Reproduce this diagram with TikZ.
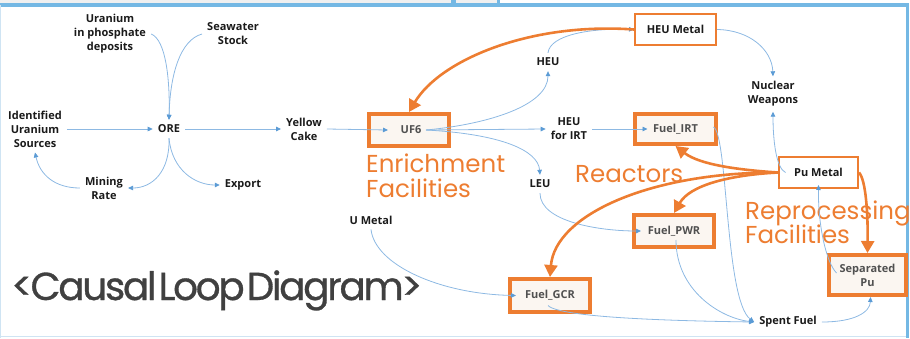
\documentclass[tikz,border=0pt]{standalone}
\usepackage{fontspec}
\usetikzlibrary{arrows.meta}
\newfontfamily\lblfont{Open Sans}
\newfontfamily\bigfont{Poppins}
\newfontfamily\titlefont[LetterSpace=-6,WordSpace=0.25,FakeBold=0.8]{Poppins}
\definecolor{org}{HTML}{ED7D31}
\definecolor{cbl}{HTML}{8DB9E3}
\definecolor{cbt}{HTML}{5B9BD5}
\definecolor{frm}{HTML}{74B8E4}
\definecolor{frmlight}{HTML}{CFE4F3}
\definecolor{boxfill}{HTML}{FBF6F1}
\definecolor{txt}{HTML}{1A1A1A}
\definecolor{boxtxt}{HTML}{505050}
\definecolor{ttl}{HTML}{404040}
\definecolor{tabgray}{HTML}{F0F0F0}
\begin{document}
\begin{tikzpicture}[x=1pt,y=-1pt,
  lbl/.style={font=\lblfont\bfseries\fontsize{11}{14}\selectfont, text=txt, align=center, inner sep=5pt},
  obox/.style={draw=org, line width=4pt, fill=boxfill, inner sep=0pt,
     font=\lblfont\bfseries\fontsize{11}{14}\selectfont, text=boxtxt, align=center},
  tbox/.style={draw=org, line width=2pt, fill=white, inner sep=0pt,
     font=\lblfont\bfseries\fontsize{11}{14}\selectfont, text=txt, align=center},
  bl/.style={draw=cbl, line width=0.8pt, -{Triangle[length=5pt,width=4.5pt,color=cbt]}},
  orr/.style={draw=org, line width=2.6pt, -{Triangle[length=12pt,width=13pt]}},
  big/.style={font=\bigfont\fontsize{24.5}{25}\selectfont, text=org, anchor=base west, inner sep=0pt}
]
\useasboundingbox (0,0) rectangle (910,338);
% frame
\fill[tabgray] (0,0) rectangle (451,3.3);
\fill[tabgray] (456,0) rectangle (497,3.3);
\fill[frm] (451,0) rectangle (456,5);
\fill[frm] (497,0) rectangle (500,5);
\draw[frm, line width=4pt] (0,5.3) -- (909,5.3);
\draw[frm, line width=3.5pt] (907.3,5) -- (907.3,338);
\draw[frmlight, line width=1pt] (0.5,5) -- (0.5,338);
\draw[frmlight, line width=1pt] (0,336.8) -- (906,336.8);

% labels
\node[lbl] (upd) at (110,34) {Uranium\\in phosphate\\deposits};
\node[lbl] (sea) at (233,34) {Seawater\\Stock};
\node[lbl] (ids) at (35,129) {Identified\\Uranium\\Sources};
\node[lbl] (ore) at (169,129) {ORE};
\node[lbl] (mine) at (104,188) {Mining\\Rate};
\node[lbl] (exp) at (243,185) {Export};
\node[lbl] (yc) at (304,129) {Yellow\\Cake};
\node[lbl] (heu) at (548,62) {HEU};
\node[lbl] (heuirt) at (569,129) {HEU\\for IRT};
\node[lbl] (leu) at (540,184) {LEU};
\node[lbl] (nw) at (773,94) {Nuclear\\Weapons};
\node[lbl] (sf) at (788,322) {Spent Fuel};
\node[lbl] (um) at (371,220) {U Metal};

% boxes
\node[obox, minimum width=80pt, minimum height=32pt] (uf6) at (409,130) {\hspace*{4pt}UF6};
\node[tbox, minimum width=81pt, minimum height=31pt] (heum) at (675.5,29.5) {HEU Metal};
\node[obox, minimum width=81pt, minimum height=30pt] (firt) at (675.5,129) {Fuel\_IRT};
\node[tbox, minimum width=79pt, minimum height=31pt] (pum) at (818.5,172.5) {Pu Metal};
\node[obox, minimum width=80pt, minimum height=32pt] (fpwr) at (674,231) {Fuel\_PWR};
\node[obox, minimum width=80pt, minimum height=33pt] (fgcr) at (550,295.5) {Fuel\_GCR};
\node[obox, minimum width=77pt, minimum height=40pt] (sepu) at (867.5,275) {Separated\\Pu};

% orange texts
\node[big] (enr1) at (366,172) {Enrichment};
\node[big] (enr2) at (366,197) {Facilities};
\node[big] (rea) at (575,182) {Reactors};
\node[big] (rep1) at (745,219) {Reprocessing};
\node[big] (rep2) at (745,243) {Facilities};
\node[font=\titlefont\fontsize{39}{42}\selectfont, text=ttl, anchor=base west, inner sep=0pt] (title) at (11,300) {<Causal Loop Diagram>};

% blue connectors
\draw[bl] (upd.east) .. controls (166,40) and (170,80) .. (ore.north);
\draw[bl] (sea.west) .. controls (180,40) and (170,75) .. (ore.north);
\draw[bl] (ids.east) -- (ore.west);
\draw[bl] (ore.east) -- (yc.west);
\draw[bl] (ore.south) .. controls (170,172) and (152,188) .. (mine.east);
\draw[bl] (ore.south) .. controls (172,170) and (195,185) .. (exp.west);
\draw[bl] (mine.west) .. controls (55,188) and (40,175) .. (ids.south);
\draw[bl] (yc.east) -- ([xshift=-21pt]uf6.center);
\draw[bl] ([xshift=17pt]uf6.center) .. controls (490,124) and (548,105) .. (heu.south);
\draw[bl] ([xshift=17pt]uf6.center) -- (heuirt.west);
\draw[bl] ([xshift=17pt]uf6.center) .. controls (500,134) and (538,150) .. (leu.north);
\draw[bl] (heu.north) .. controls (550,35) and (590,28) .. (heum.west);
\draw[bl] (heuirt.east) -- ([xshift=-28pt]firt.center);
\draw[bl] (heum.east) .. controls (750,30) and (772,50) .. (nw.north);
\draw[bl] ([xshift=-33pt]pum.center) .. controls (776,168) and (773,140) .. (nw.south);
\draw[bl] ([xshift=38pt,yshift=2pt]firt.center) .. controls (728,135) and (725,300) .. (sf.west);
\draw[bl] (leu.south) .. controls (540,222) and (600,231) .. ([xshift=-33pt]fpwr.center);
\draw[bl] ([xshift=2pt,yshift=-9pt]fpwr.center) .. controls (676,290) and (720,318) .. (sf.west);
\draw[bl] (um.south) .. controls (375,265) and (440,294) .. ([xshift=-34pt]fgcr.center);
\draw[bl] ([xshift=-2pt,yshift=-10pt]fgcr.center) .. controls (560,318) and (680,321) .. (sf.west);
\draw[bl] (sf.east) .. controls (855,322) and (870,312) .. ([xshift=3pt]sepu.south);
\draw[bl] ([xshift=-31pt,yshift=2pt]sepu.center) .. controls (826,262) and (818,225) .. ([yshift=-12.5pt]pum.center);

% orange connectors
\draw[orr] (heum.west) .. controls (530,22) and (440,60) .. (uf6.north);
\draw[orr] (pum.west) .. controls (740,170) and (700,165) .. (firt.south);
\draw[orr] (pum.west) .. controls (730,175) and (690,185) .. (fpwr.north);
\draw[orr] (pum.west) .. controls (650,172) and (555,215) .. (fgcr.north);
\draw[orr] (pum.east) .. controls (866,180) and (868,215) .. (sepu.north);
\end{tikzpicture}
\end{document}
